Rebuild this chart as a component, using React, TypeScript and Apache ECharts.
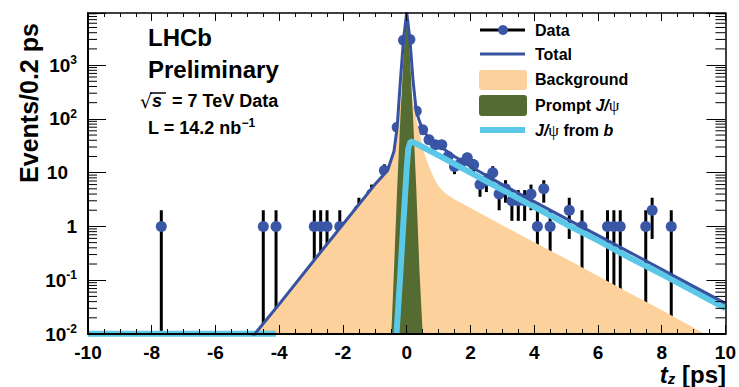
import React, { useEffect, useRef } from 'react';
import * as echarts from 'echarts';

// ---------- data ----------
const X_MIN = -10;
const X_MAX = 10;
const X_TICK_STEP = 2;
const Y_MIN = 0.01;
const Y_MAX = 9300;
const BIN_WIDTH = 0.2;

// data histogram: bin centres (ps) and counts (non-empty bins)
const DATA_T = [-7.7, -4.5, -4.1, -2.9, -2.7, -2.5, -2.1, -1.5, -1.3, -1.1, -0.9, -0.7, -0.5, -0.3, -0.1, 0.1, 0.3, 0.5, 0.7, 0.9, 1.1, 1.3, 1.5, 1.7, 1.9, 2.1, 2.3, 2.5, 2.7, 2.9, 3.1, 3.3, 3.5, 3.7, 3.9, 4.1, 4.3, 4.5, 5.1, 5.5, 6.3, 6.5, 6.7, 7.5, 7.7, 8.3];
const DATA_N = [1, 1, 1, 1, 1, 1, 1, 2, 2, 4, 4, 11, 10, 70, 2900, 3000, 140, 63, 41, 33, 33, 20, 13, 15, 19, 14, 6, 7, 10, 4, 5, 3, 3, 3, 4, 1, 5, 1, 2, 1, 1, 1, 1, 1, 2, 1];

// total fit
const TOTAL_T = [-4.9, -4, -3, -2, -1, -0.6, -0.4, -0.3, -0.2, -0.1, 0, 0.1, 0.2, 0.3, 0.4, 0.5, 0.7, 1.0, 1.5, 2, 3, 4, 5, 6, 7, 8, 9, 10];
const TOTAL_V = [0.008, 0.036, 0.2, 1.1, 6, 11, 25, 70, 500, 3000, 9500, 3000, 500, 140, 90, 63, 44, 32, 20, 13, 6, 2.9, 1.4, 0.68, 0.33, 0.16, 0.077, 0.037];

// background component
const BG_T = [-4.9, -4, -3, -2, -1, -0.6, -0.4, -0.3, -0.2, -0.1, 0, 0.1, 0.2, 0.3, 0.4, 0.5, 0.6, 0.7, 0.85, 1.0, 1.2, 1.45, 2, 3, 4, 5, 6, 7, 8, 9, 9.5];
const BG_V = [0.008, 0.036, 0.2, 1.1, 6, 11, 22, 55, 200, 400, 600, 400, 200, 100, 55, 30, 19, 13, 8, 5.5, 4.2, 3.3, 2.2, 1.05, 0.51, 0.25, 0.12, 0.057, 0.028, 0.013, 0.009];

// prompt J/psi component
const PROMPT_T = [-0.49, -0.4, -0.3, -0.2, -0.1, 0, 0.1, 0.2, 0.3, 0.4, 0.51];
const PROMPT_V = [0.008, 0.15, 5, 100, 1500, 8000, 1500, 100, 5, 0.15, 0.008];

// J/psi from b component (null = not drawn)
const FROMB_T = [-10, -4.1, -4.0, -0.32, -0.2, -0.1, 0, 0.05, 0.12, 0.2, 0.5, 1, 2, 3, 4, 5, 6, 7, 8, 9, 10];
const FROMB_V = [0.0101, 0.0101, null, 0.0101, 0.13, 1.3, 12, 28, 38, 37, 30, 21, 10, 4.8, 2.3, 1.1, 0.55, 0.26, 0.13, 0.063, 0.03];

const LEGEND_LABELS = ['Data', 'Total', 'Background', 'Prompt J/ψ', 'J/ψ from b'];

// ---------- styling ----------
const FONT = '"Liberation Sans", Arial, Helvetica, sans-serif';
const BLUE_MARK = '#3a56a6';
const BLUE_LINE = '#3852a2';
const PEACH = '#fdd19b';
const GREEN = '#546b31';
const CYAN = '#5bc8e7';

function pairs(t: number[], v: (number | null)[]) {
  return t.map((x, i) => [x, v[i]]);
}

function buildOption() {
  const minorVals: number[] = [];
  for (let e = -2; e <= 3; e++) {
    for (let k = 2; k <= 9; k++) {
      const v = k * Math.pow(10, e);
      if (v <= Y_MAX) minorVals.push(v);
    }
  }

  const errData = DATA_T.map((t, i) => {
    const n = DATA_N[i];
    const s = Math.sqrt(n);
    return [t, n, n - s, n + s];
  });

  const yLabelFmt = (v: number) => {
    const l = Math.log10(v);
    const e = Math.round(l);
    if (Math.abs(l - e) > 1e-6) return '';
    if (e === 0) return '{b|1}';
    if (e === 1) return '{p|10}';
    return `{b|10}{s|${e}}`;
  };

  const axisLineStyle = { color: '#000', width: 2 };
  const tickStyle = { color: '#000', width: 1 };

  return {
    animation: false,
    backgroundColor: '#ffffff',
    grid: { left: 88, right: 12, top: 13, bottom: 53, containLabel: false },
    xAxis: [
      {
        type: 'value', min: X_MIN, max: X_MAX, interval: X_TICK_STEP, position: 'bottom', z: 10,
        axisLine: { show: true, onZero: false, lineStyle: axisLineStyle },
        axisTick: { show: true, inside: true, length: 9, lineStyle: tickStyle },
        minorTick: { show: true, splitNumber: 4, length: 5, lineStyle: tickStyle },
        axisLabel: { margin: 9, color: '#000', fontSize: 19, fontWeight: 'bold', fontFamily: FONT },
        splitLine: { show: false },
      },
      {
        type: 'value', min: X_MIN, max: X_MAX, interval: X_TICK_STEP, position: 'top', z: 10,
        axisLine: { show: true, onZero: false, lineStyle: { color: '#000', width: 1.5 } },
        axisTick: { show: true, inside: true, length: 8, lineStyle: tickStyle },
        minorTick: { show: true, splitNumber: 4, length: 4, lineStyle: tickStyle },
        axisLabel: { show: false },
        splitLine: { show: false },
      },
    ],
    yAxis: [
      {
        type: 'log', logBase: 10, min: Y_MIN, max: Y_MAX, position: 'left', z: 10,
        axisLine: { show: true, onZero: false, lineStyle: axisLineStyle },
        axisTick: { show: true, inside: true, length: 18, lineStyle: tickStyle },
        minorTick: { show: false },
        splitLine: { show: false },
        axisLabel: {
          margin: 11, color: '#000', formatter: yLabelFmt,
          rich: {
            b: { fontSize: 19, fontWeight: 'bold', fontFamily: FONT, lineHeight: 22, color: '#000' },
            p: { fontSize: 19, fontWeight: 'bold', fontFamily: FONT, lineHeight: 22, color: '#000', padding: [0, 9, 0, 0] },
            s: { fontSize: 12, fontWeight: 'bold', fontFamily: FONT, lineHeight: 12, verticalAlign: 'top', color: '#000' },
          },
        },
      },
      {
        type: 'log', logBase: 10, min: Y_MIN, max: Y_MAX, position: 'right', z: 10,
        axisLine: { show: true, onZero: false, lineStyle: { color: '#000', width: 1.5 } },
        axisTick: { show: true, inside: true, length: 19, lineStyle: tickStyle },
        minorTick: { show: false },
        splitLine: { show: false },
        axisLabel: { show: false },
      },
    ],
    series: [
      {
        name: 'Background', type: 'line', data: pairs(BG_T, BG_V), symbol: 'none', silent: true,
        lineStyle: { width: 0, color: PEACH }, itemStyle: { color: PEACH },
        areaStyle: { color: PEACH, opacity: 1, origin: 'start' },
      },
      {
        name: 'Prompt', type: 'line', data: pairs(PROMPT_T, PROMPT_V), symbol: 'none', silent: true,
        lineStyle: { width: 0, color: GREEN }, itemStyle: { color: GREEN },
        areaStyle: { color: GREEN, opacity: 1, origin: 'start' },
      },
      {
        name: 'FromB', type: 'line', data: pairs(FROMB_T, FROMB_V), symbol: 'none', silent: true,
        connectNulls: false,
        lineStyle: { width: 6, color: CYAN }, itemStyle: { color: CYAN },
      },
      {
        name: 'Total', type: 'line', data: pairs(TOTAL_T, TOTAL_V), symbol: 'none', silent: true,
        lineStyle: { width: 3, color: BLUE_LINE }, itemStyle: { color: BLUE_LINE },
      },
      {
        name: 'DataErr', type: 'custom', silent: true, data: errData,
        encode: { x: 0, y: 1 },
        renderItem: (params: any, api: any) => {
          const t = api.value(0);
          const n = api.value(1);
          const lo = Math.max(api.value(2), Y_MIN);
          const hi = api.value(3);
          const top = api.coord([t, hi]);
          const bot = api.coord([t, lo]);
          const l = api.coord([t - BIN_WIDTH / 2, n]);
          const r = api.coord([t + BIN_WIDTH / 2, n]);
          return {
            type: 'group',
            children: [
              { type: 'line', shape: { x1: top[0], y1: top[1], x2: bot[0], y2: bot[1] }, style: { stroke: '#000', lineWidth: 3 } },
              { type: 'line', shape: { x1: l[0], y1: l[1], x2: r[0], y2: r[1] }, style: { stroke: '#000', lineWidth: 3 } },
            ],
          };
        },
      },
      {
        name: 'Data', type: 'scatter', data: pairs(DATA_T, DATA_N), symbol: 'circle', symbolSize: 11, silent: true,
        itemStyle: { color: BLUE_MARK, opacity: 1 },
      },
      {
        name: 'MinorTicks', type: 'custom', silent: true, z: 20,
        data: minorVals.map((v) => [X_MIN, v]),
        encode: { x: 0, y: 1 },
        renderItem: (params: any, api: any) => {
          const v = api.value(1);
          const pL = api.coord([X_MIN, v]);
          const pR = api.coord([X_MAX, v]);
          return {
            type: 'group',
            children: [
              { type: 'line', shape: { x1: pL[0], y1: pL[1], x2: pL[0] + 9, y2: pL[1] }, style: { stroke: '#000', lineWidth: 1 } },
              { type: 'line', shape: { x1: pR[0], y1: pR[1], x2: pR[0] - 10, y2: pR[1] }, style: { stroke: '#000', lineWidth: 1 } },
            ],
          };
        },
      },
    ],
    graphic: [
      // axis titles
      {
        type: 'text', x: 29, y: 103, rotation: Math.PI / 2, z: 100,
        style: { text: 'Events/0.2 ps', fontSize: 25, fontWeight: 'bold', fontFamily: FONT, fill: '#000', align: 'center', verticalAlign: 'middle' },
      },
      {
        type: 'text', x: 726, y: 374, z: 100,
        style: {
          text: '{t|t}{z|z}{n| [ps]}', align: 'right', verticalAlign: 'middle', fill: '#000',
          rich: {
            t: { fontSize: 24, fontWeight: 'bold', fontStyle: 'italic', fontFamily: FONT, lineHeight: 24 },
            z: { fontSize: 15, fontWeight: 'bold', fontStyle: 'italic', fontFamily: FONT, lineHeight: 12, verticalAlign: 'bottom' },
            n: { fontSize: 24, fontWeight: 'bold', fontFamily: FONT, lineHeight: 24 },
          },
        },
      },
      // annotations
      { type: 'text', x: 148, y: 37, z: 100, style: { text: 'LHCb', fontSize: 24, fontWeight: 'bold', fontFamily: FONT, fill: '#000', verticalAlign: 'middle' } },
      { type: 'text', x: 148, y: 69, z: 100, style: { text: 'Preliminary', fontSize: 24, fontWeight: 'bold', fontFamily: FONT, fill: '#000', verticalAlign: 'middle' } },
      { type: 'text', x: 140, y: 101, z: 100, style: { text: '√', fontSize: 19, fontFamily: '"DejaVu Sans", sans-serif', fill: '#000', verticalAlign: 'middle' } },
      { type: 'line', z: 100, shape: { x1: 150, y1: 93, x2: 166, y2: 93 }, style: { stroke: '#000', lineWidth: 1.5 } },
      { type: 'text', x: 152, y: 101, z: 100, style: { text: 's', fontSize: 18, fontWeight: 'bold', fontStyle: 'italic', fontFamily: FONT, fill: '#000', verticalAlign: 'middle' } },
      { type: 'text', x: 172, y: 101, z: 100, style: { text: '= 7 TeV Data', fontSize: 18, fontWeight: 'bold', fontFamily: FONT, fill: '#000', verticalAlign: 'middle' } },
      {
        type: 'text', x: 148, y: 128, z: 100,
        style: {
          text: '{m|L = 14.2 nb}{s|−1}', verticalAlign: 'middle', fill: '#000',
          rich: {
            m: { fontSize: 18, fontWeight: 'bold', fontFamily: FONT, lineHeight: 22 },
            s: { fontSize: 12, fontWeight: 'bold', fontFamily: FONT, lineHeight: 12, verticalAlign: 'top' },
          },
        },
      },
      // legend symbols
      { type: 'line', z: 100, shape: { x1: 480, y1: 30, x2: 525, y2: 30 }, style: { stroke: '#000', lineWidth: 3 } },
      { type: 'circle', z: 101, shape: { cx: 503, cy: 30, r: 5 }, style: { fill: BLUE_MARK } },
      { type: 'line', z: 100, shape: { x1: 480, y1: 54, x2: 525, y2: 54 }, style: { stroke: BLUE_LINE, lineWidth: 3 } },
      { type: 'rect', z: 100, shape: { x: 479, y: 70, width: 48, height: 20, r: 3 }, style: { fill: PEACH } },
      { type: 'rect', z: 100, shape: { x: 479, y: 95, width: 48, height: 21, r: 3 }, style: { fill: GREEN } },
      { type: 'line', z: 100, shape: { x1: 480, y1: 130, x2: 525, y2: 130 }, style: { stroke: CYAN, lineWidth: 6 } },
      // legend labels
      { type: 'text', x: 535, y: 30, z: 100, style: { text: LEGEND_LABELS[0], fontSize: 16, fontWeight: 'bold', fontFamily: FONT, fill: '#000', verticalAlign: 'middle' } },
      { type: 'text', x: 535, y: 54, z: 100, style: { text: LEGEND_LABELS[1], fontSize: 16, fontWeight: 'bold', fontFamily: FONT, fill: '#000', verticalAlign: 'middle' } },
      { type: 'text', x: 535, y: 79, z: 100, style: { text: LEGEND_LABELS[2], fontSize: 16, fontWeight: 'bold', fontFamily: FONT, fill: '#000', verticalAlign: 'middle' } },
      {
        type: 'text', x: 535, y: 105, z: 100,
        style: {
          text: '{n|Prompt }{i|J/}{g|ψ}', verticalAlign: 'middle', fill: '#000',
          rich: {
            n: { fontSize: 16, fontWeight: 'bold', fontFamily: FONT },
            i: { fontSize: 16, fontWeight: 'bold', fontStyle: 'italic', fontFamily: FONT },
            g: { fontSize: 17, fontFamily: '"Liberation Serif", serif' },
          },
        },
      },
      {
        type: 'text', x: 535, y: 130, z: 100,
        style: {
          text: '{i|J/}{g|ψ}{n| from }{i|b}', verticalAlign: 'middle', fill: '#000',
          rich: {
            n: { fontSize: 16, fontWeight: 'bold', fontFamily: FONT },
            i: { fontSize: 16, fontWeight: 'bold', fontStyle: 'italic', fontFamily: FONT },
            g: { fontSize: 17, fontFamily: '"Liberation Serif", serif' },
          },
        },
      },
    ],
  };
}

export default function App() {
  const ref = useRef<HTMLDivElement>(null);
  useEffect(() => {
    if (!ref.current) return;
    const chart = echarts.init(ref.current, undefined, { renderer: 'svg' });
    chart.setOption(buildOption() as any);
    return () => chart.dispose();
  }, []);
  return (
    <div
      ref={ref}
      style={{ position: 'fixed', left: 0, top: 0, width: 739, height: 387, background: '#fff' }}
    />
  );
}
